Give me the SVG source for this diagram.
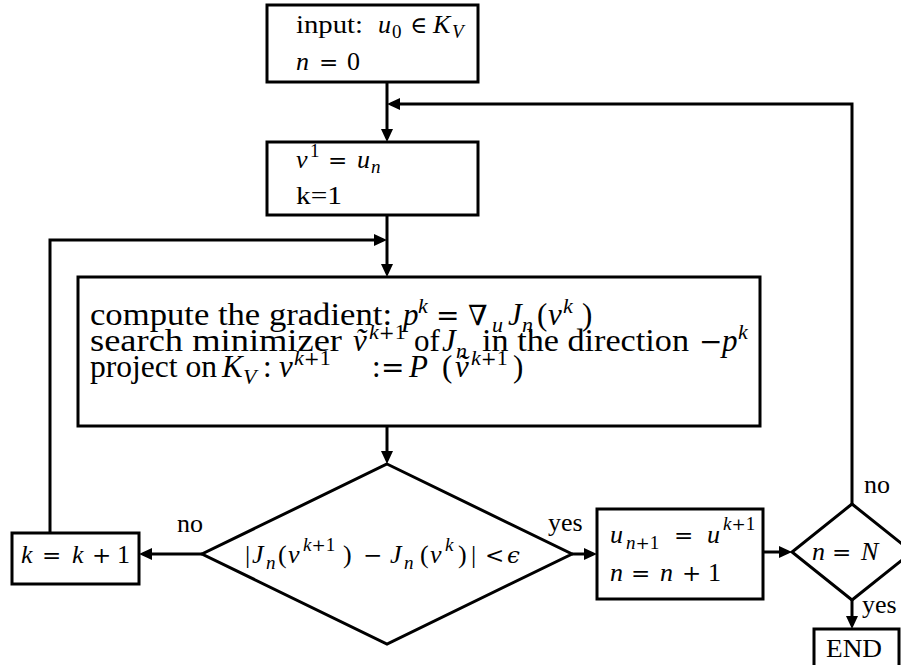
<svg xmlns="http://www.w3.org/2000/svg" width="901" height="665" viewBox="0 0 901 665">
<defs>
<marker id="ah" markerUnits="userSpaceOnUse" markerWidth="14" markerHeight="14" refX="9" refY="6" orient="auto">
<path d="M0,0 L13,6 L0,12 z" fill="#000"/>
</marker>
<style>
.box{fill:#fff;stroke:#000;stroke-width:3}
.ln{fill:none;stroke:#000;stroke-width:3;marker-end:url(#ah)}
text{font-family:"Liberation Serif","DejaVu Serif",serif;font-size:26px;fill:#000}
.i{font-style:italic}
.s{font-size:19px}
.sop{font-family:"DejaVu Serif","Liberation Serif",serif;font-size:17px}
.op{font-family:"DejaVu Serif","Liberation Serif",serif;font-size:23px}
.L{font-size:31px}
.Ls{font-size:22px}
.Lsop{font-family:"DejaVu Serif","Liberation Serif",serif;font-size:19px}
.Lop{font-family:"DejaVu Serif","Liberation Serif",serif;font-size:28px}
</style>
</defs>
<rect width="901" height="665" fill="#fff"/>

<g id="connectors">
<path class="ln" d="M387,82 V138"/>
<path class="ln" d="M852,504 V104 H391"/>
<path class="ln" d="M387,215 V273"/>
<path class="ln" d="M50,533 V240 H383"/>
<path class="ln" d="M387,426 V460"/>
<path class="ln" d="M202,554 H143"/>
<path class="ln" d="M572,554 H593"/>
<path class="ln" d="M763,552 H788"/>
<path class="ln" d="M852,600 V625"/>
<text x="177" y="532">no</text>
<text x="548" y="531">yes</text>
<text x="864" y="493">no</text>
<text x="862" y="613">yes</text>
</g>

<g id="n_input">
<rect class="box" x="267" y="5" width="211" height="77"/>
<text><tspan x="296" y="33" textLength="67" lengthAdjust="spacingAndGlyphs">input:</tspan><tspan class="i" x="378" y="33">u</tspan><tspan class="s" x="392" y="38">0</tspan><tspan class="op" x="410" y="33">∈</tspan><tspan class="i" x="433" y="33">K</tspan><tspan class="i s" x="452" y="38">V</tspan></text>
<text><tspan class="i" x="296" y="70">n</tspan><tspan class="op" x="319" y="70">=</tspan><tspan x="347" y="70">0</tspan></text>
</g>

<g id="n_init">
<rect class="box" x="267" y="142" width="211" height="73"/>
<text><tspan class="i" x="296" y="168">v</tspan><tspan class="s" x="310" y="157">1</tspan><tspan class="op" x="328" y="168">=</tspan><tspan class="i" x="357" y="168">u</tspan><tspan class="i s" x="371" y="173">n</tspan></text>
<text x="296" y="204" textLength="46" lengthAdjust="spacingAndGlyphs">k=1</text>
</g>

<g id="n_compute">
<rect class="box" x="78" y="277" width="682" height="149"/>
<text class="L"><tspan x="90" y="325" textLength="302" lengthAdjust="spacingAndGlyphs">compute the gradient:</tspan><tspan class="i" x="403" y="325">p</tspan><tspan class="i Ls" x="418" y="313">k</tspan><tspan class="Lop" x="436" y="325">=</tspan><tspan class="Lop" x="468" y="325">∇</tspan><tspan class="i Ls" x="492" y="332">u</tspan><tspan class="i" x="508" y="325">J</tspan><tspan class="i Ls" x="522" y="332">n</tspan><tspan x="537" y="325">(</tspan><tspan class="i" x="548" y="325">v</tspan><tspan class="i Ls" x="563" y="313">k</tspan><tspan x="582" y="325">)</tspan></text>
<text class="L"><tspan x="90" y="351" textLength="252" lengthAdjust="spacingAndGlyphs">search minimizer</tspan><tspan class="i" x="353" y="351">ṽ</tspan><tspan class="i Ls" x="369" y="339">k</tspan><tspan class="Lsop" y="339">+</tspan><tspan class="Ls" y="339">1</tspan><tspan x="414" y="351">of</tspan><tspan class="i" x="442" y="351">J</tspan><tspan class="i Ls" x="456" y="358">n</tspan><tspan x="482" y="351" textLength="207" lengthAdjust="spacingAndGlyphs">in the direction</tspan><tspan class="Lop" x="699" y="351">−</tspan><tspan class="i" x="722" y="351">p</tspan><tspan class="i Ls" x="738" y="339">k</tspan></text>
<text class="L"><tspan x="90" y="377" textLength="127" lengthAdjust="spacingAndGlyphs">project on</tspan><tspan class="i" x="222" y="377">K</tspan><tspan class="i Ls" x="243" y="384">V</tspan><tspan x="263" y="377">:</tspan><tspan class="i" x="279" y="377">v</tspan><tspan class="i Ls" x="294" y="365">k</tspan><tspan class="Lsop" y="365">+</tspan><tspan class="Ls" y="365">1</tspan><tspan x="372" y="377">:</tspan><tspan class="Lop" x="381" y="377">=</tspan><tspan class="i" x="409" y="377">P</tspan><tspan x="442" y="377">(</tspan><tspan class="i" x="455" y="377">ṽ</tspan><tspan class="i Ls" x="471" y="365">k</tspan><tspan class="Lsop" y="365">+</tspan><tspan class="Ls" y="365">1</tspan><tspan x="513" y="377">)</tspan></text>
</g>

<g id="n_test">
<polygon class="box" points="387,464 572,554 387,644 202,554"/>
<text><tspan x="245" y="563">|</tspan><tspan class="i" x="252" y="563">J</tspan><tspan class="i s" x="266" y="569">n</tspan><tspan x="278" y="563">(</tspan><tspan class="i" x="288" y="563">v</tspan><tspan class="i s" x="303" y="551">k</tspan><tspan class="sop" y="551">+</tspan><tspan class="s" y="551">1</tspan><tspan x="343" y="563">)</tspan><tspan class="op" x="363" y="563">−</tspan><tspan class="i" x="390" y="563">J</tspan><tspan class="i s" x="404" y="569">n</tspan><tspan x="420" y="563">(</tspan><tspan class="i" x="430" y="563">v</tspan><tspan class="i s" x="445" y="551">k</tspan><tspan x="458" y="563">)</tspan><tspan x="471" y="563">|</tspan><tspan class="op" x="485" y="563">&lt;</tspan><tspan class="i op" x="507" y="563">ϵ</tspan></text>
</g>

<g id="n_inc">
<rect class="box" x="12" y="533" width="127" height="51"/>
<text><tspan class="i" x="21" y="563">k</tspan><tspan class="op" x="42" y="563">=</tspan><tspan class="i" x="72" y="563">k</tspan><tspan class="op" x="92" y="563">+</tspan><tspan x="117" y="563">1</tspan></text>
</g>

<g id="n_update">
<rect class="box" x="597" y="509" width="166" height="90"/>
<text><tspan class="i" x="610" y="543">u</tspan><tspan class="i s" x="626" y="549">n</tspan><tspan class="sop" y="549">+</tspan><tspan class="s" y="549">1</tspan><tspan class="op" x="674" y="543">=</tspan><tspan class="i" x="707" y="543">u</tspan><tspan class="i s" x="723" y="530">k</tspan><tspan class="sop" y="530">+</tspan><tspan class="s" y="530">1</tspan></text>
<text><tspan class="i" x="610" y="581">n</tspan><tspan class="op" x="631" y="581">=</tspan><tspan class="i" x="660" y="581">n</tspan><tspan class="op" x="682" y="581">+</tspan><tspan x="708" y="581">1</tspan></text>
</g>

<g id="n_check">
<polygon class="box" points="852,504 912,552 852,600 792,552"/>
<text><tspan class="i" x="812" y="560">n</tspan><tspan class="op" x="832" y="560">=</tspan><tspan class="i" x="861" y="560">N</tspan></text>
</g>

<g id="n_end">
<rect class="box" x="814" y="629" width="85" height="50"/>
<text x="826" y="657" textLength="56" lengthAdjust="spacingAndGlyphs">END</text>
</g>
</svg>
